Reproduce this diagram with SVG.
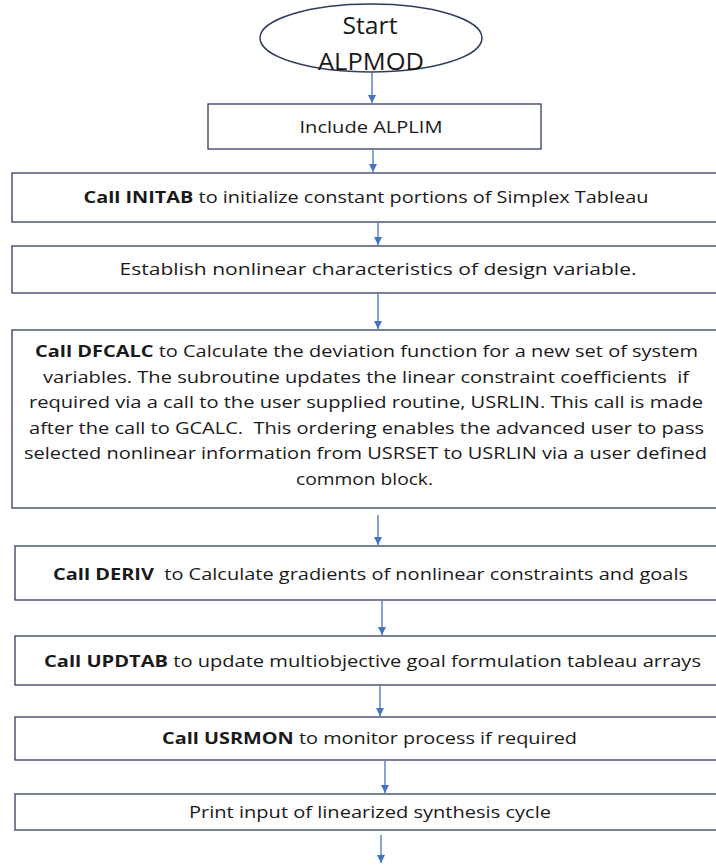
<svg xmlns="http://www.w3.org/2000/svg" width="716" height="865" viewBox="0 0 716 865">
  <defs>
    <marker id="arrow" viewBox="0 0 10 10" refX="10" refY="5" markerWidth="8" markerHeight="8" markerUnits="userSpaceOnUse" orient="auto">
      <path d="M0,0 L10,5 L0,10 z" fill="#4472C4"/>
    </marker>
    <style>
      .box { fill: #FFFFFF; stroke: #2E3D5C; stroke-width: 1.3; }
      .lbl { font-family: "Open Sans", "Liberation Sans", sans-serif; font-size: 16.5px; fill: #1A1A1A; text-anchor: middle; }
      .b { font-weight: bold; }
      .conn { stroke: #4472C4; stroke-width: 1.3; fill: none; marker-end: url(#arrow); }
    </style>
  </defs>
  <rect width="716" height="865" fill="#FFFFFF"/>

  <!-- connectors -->
  <g id="connectors">
    <line class="conn" x1="372" y1="73" x2="372" y2="103"/>
    <line class="conn" x1="373" y1="150" x2="373" y2="172"/>
    <line class="conn" x1="378" y1="223" x2="378" y2="245"/>
    <line class="conn" x1="378" y1="294" x2="378" y2="329"/>
    <line class="conn" x1="378" y1="515" x2="378" y2="545"/>
    <line class="conn" x1="382" y1="601" x2="382" y2="635"/>
    <line class="conn" x1="380" y1="686" x2="380" y2="716"/>
    <line class="conn" x1="385" y1="761" x2="385" y2="793"/>
    <line class="conn" x1="381" y1="835" x2="381" y2="863"/>
  </g>

  <!-- start terminal -->
  <g id="start">
    <ellipse cx="371" cy="38" rx="111" ry="34" fill="#FFFFFF" stroke="#2E3D5C" stroke-width="1.5"/>
    <text class="lbl" x="370" y="34" style="font-size:24px" textLength="55" lengthAdjust="spacingAndGlyphs">Start</text>
    <text class="lbl" x="371" y="70" style="font-size:24px" textLength="106" lengthAdjust="spacingAndGlyphs">ALPMOD</text>
  </g>

  <g id="include">
    <rect class="box" x="208" y="104" width="333" height="45"/>
    <text class="lbl" x="371" y="133" textLength="143" lengthAdjust="spacingAndGlyphs">Include ALPLIM</text>
  </g>

  <g id="initab">
    <rect class="box" x="12" y="173" width="720" height="49"/>
    <text class="lbl" x="366" y="203" textLength="565" lengthAdjust="spacingAndGlyphs"><tspan class="b">Call INITAB</tspan> to initialize constant portions of Simplex Tableau</text>
  </g>

  <g id="nonlinear">
    <rect class="box" x="12" y="246" width="740" height="47"/>
    <text class="lbl" x="378" y="275" textLength="517" lengthAdjust="spacingAndGlyphs">Establish nonlinear characteristics of design variable.</text>
  </g>

  <g id="dfcalc">
    <rect class="box" x="12" y="330" width="710" height="178"/>
    <text class="lbl" x="366.5" y="357" textLength="663" lengthAdjust="spacingAndGlyphs"><tspan class="b">Call DFCALC</tspan> to Calculate the deviation function for a new set of system</text>
    <text class="lbl" x="366" y="383" textLength="646" lengthAdjust="spacingAndGlyphs" xml:space="preserve">variables. The subroutine updates the linear constraint coefficients  if</text>
    <text class="lbl" x="366" y="408" textLength="674" lengthAdjust="spacingAndGlyphs">required via a call to the user supplied routine, USRLIN. This call is made</text>
    <text class="lbl" x="366.5" y="434" textLength="675" lengthAdjust="spacingAndGlyphs" xml:space="preserve">after the call to GCALC.  This ordering enables the advanced user to pass</text>
    <text class="lbl" x="365.5" y="459" textLength="683" lengthAdjust="spacingAndGlyphs">selected nonlinear information from USRSET to USRLIN via a user defined</text>
    <text class="lbl" x="364.5" y="485" textLength="137" lengthAdjust="spacingAndGlyphs">common block.</text>
  </g>

  <g id="deriv">
    <rect class="box" x="15" y="546" width="720" height="54"/>
    <text class="lbl" x="370.5" y="580" textLength="635" lengthAdjust="spacingAndGlyphs" xml:space="preserve"><tspan class="b">Call DERIV</tspan>  to Calculate gradients of nonlinear constraints and goals</text>
  </g>

  <g id="updtab">
    <rect class="box" x="15" y="636" width="720" height="49"/>
    <text class="lbl" x="372.5" y="667" textLength="657" lengthAdjust="spacingAndGlyphs"><tspan class="b">Call UPDTAB</tspan> to update multiobjective goal formulation tableau arrays</text>
  </g>

  <g id="usrmon">
    <rect class="box" x="15" y="717" width="720" height="43"/>
    <text class="lbl" x="369.5" y="744" textLength="415" lengthAdjust="spacingAndGlyphs"><tspan class="b">Call USRMON</tspan> to monitor process if required</text>
  </g>

  <g id="print">
    <rect class="box" x="15" y="794" width="720" height="36"/>
    <text class="lbl" x="370" y="818" textLength="362" lengthAdjust="spacingAndGlyphs">Print input of linearized synthesis cycle</text>
  </g>
</svg>
